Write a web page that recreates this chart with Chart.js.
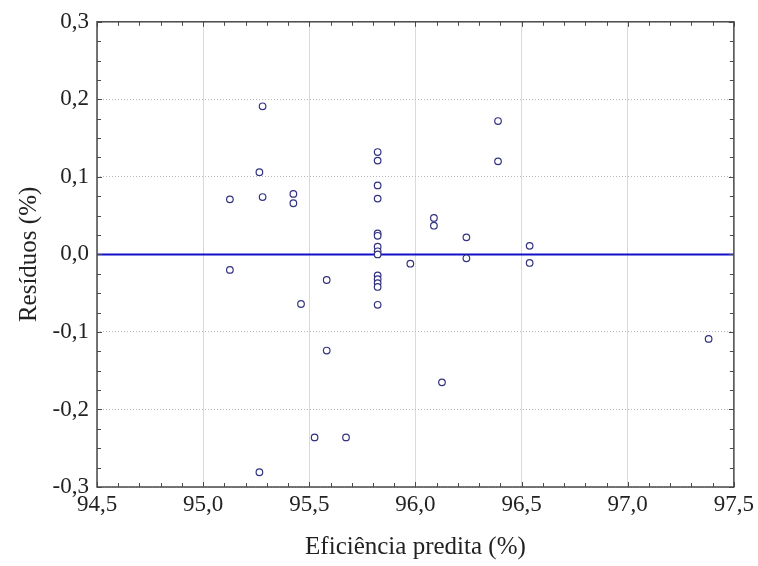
<!DOCTYPE html>
<html>
<head>
<meta charset="utf-8">
<script src="https://cdn.jsdelivr.net/npm/chart.js@4"></script>
<style>
  html, body { margin: 0; padding: 0; background: #fff; }
  #wrap { width: 758px; height: 566px; }
</style>
</head>
<body>
<div id="wrap"><canvas id="residuals"></canvas></div>
<script>
// Predicted efficiency (%) and residuals (%)
const predicted = [
  95.126, 95.126, 95.265, 95.280, 95.280, 95.425, 95.425, 95.461,
  95.582, 95.582, 95.525, 95.673, 95.265,
  95.822, 95.822, 95.822, 95.822, 95.822, 95.822, 95.822, 95.822,
  95.822, 95.822, 95.822, 95.822, 95.822, 95.822,
  95.976, 96.087, 96.087, 96.240, 96.240, 96.389, 96.389,
  96.538, 96.538, 96.125, 97.381
];
const residuals = [
  0.071, -0.020, 0.106, 0.191, 0.074, 0.078, 0.066, -0.064,
  -0.033, -0.124, -0.236, -0.236, -0.281,
  0.132, 0.121, 0.089, 0.072, 0.027, 0.024, 0.010, 0.004,
  0.000, -0.027, -0.032, -0.037, -0.042, -0.065,
  -0.012, 0.047, 0.037, 0.022, -0.005, 0.172, 0.120,
  0.011, -0.011, -0.165, -0.109
];
const xRange = [94.5, 97.5];
const yRange = [-0.3, 0.3];
const zeroLine = [0, 0];

const fmt = (v) => v.toFixed(1).replace('.', ',');

// Frame with inward ticks on all four sides (Statistica style)
const framePlugin = {
  id: 'frame',
  afterDatasetsDraw(chart) {
    const { ctx, chartArea: a, scales } = chart;
    ctx.save();
    ctx.strokeStyle = '#4a4a4a';
    ctx.lineWidth = 1;
    // minor + major ticks on x every 0.1
    for (let i = 0; i <= 30; i++) {
      const v = xRange[0] + i * 0.1;
      const px = Math.round(scales.x.getPixelForValue(v)) + 0.5;
      const len = i % 5 === 0 ? 5 : 4;
      ctx.beginPath();
      ctx.moveTo(px, a.bottom); ctx.lineTo(px, a.bottom - len);
      ctx.moveTo(px, a.top); ctx.lineTo(px, a.top + len);
      ctx.stroke();
    }
    // y ticks every 0.025
    for (let i = 0; i <= 24; i++) {
      const v = yRange[0] + i * 0.025;
      const py = Math.round(scales.y.getPixelForValue(v)) + 0.5;
      const len = i % 4 === 0 ? 5 : 4;
      ctx.beginPath();
      ctx.moveTo(a.left, py); ctx.lineTo(a.left + len, py);
      ctx.moveTo(a.right, py); ctx.lineTo(a.right - len, py);
      ctx.stroke();
    }
    ctx.lineWidth = 1.5;
    ctx.strokeRect(a.left, a.top, a.right - a.left, a.bottom - a.top);
    ctx.restore();
  }
};

const ctx = document.getElementById('residuals');
new Chart(ctx, {
  type: 'scatter',
  data: {
    datasets: [
      {
        type: 'line',
        data: xRange.map((x, i) => ({ x, y: zeroLine[i] })),
        borderColor: '#1010c8',
        borderWidth: 2,
        pointRadius: 0,
        order: 2,
      },
      {
        data: predicted.map((x, i) => ({ x, y: residuals[i] })),
        pointStyle: 'circle',
        pointRadius: 3.3,
        borderWidth: 1.2,
        borderColor: '#33337f',
        backgroundColor: '#ffffff',
        order: 1,
      },
    ],
  },
  options: {
    responsive: true,
    maintainAspectRatio: false,
    animation: false,
    layout: {
      padding: { left: 14, right: 24, top: 19, bottom: 4 },
    },
    scales: {
      x: {
        type: 'linear',
        min: xRange[0],
        max: xRange[1],
        afterFit: (scale) => { scale.height = 75; },
        ticks: {
          stepSize: 0.5,
          padding: 4,
          color: '#222',
          font: { family: 'Liberation Serif', size: 23 },
          callback: (v) => fmt(v),
        },
        grid: {
          color: '#dadada',
          lineWidth: 1,
          drawTicks: false,
        },
        border: { display: false },
        title: {
          display: true,
          text: 'Eficiência predita (%)',
          color: '#222',
          font: { family: 'Liberation Serif', size: 25 },
          padding: 0,
        },
      },
      y: {
        min: yRange[0],
        max: yRange[1],
        afterFit: (scale) => { scale.width = 83; },
        ticks: {
          stepSize: 0.1,
          padding: 8,
          color: '#222',
          font: { family: 'Liberation Serif', size: 23 },
          callback: (v) => fmt(v),
        },
        grid: {
          color: '#b8b8b8',
          lineWidth: 1,
          drawTicks: false,
        },
        border: { display: false, dash: [1, 2] },
        title: {
          display: true,
          text: 'Resíduos (%)',
          color: '#222',
          font: { family: 'Liberation Serif', size: 25 },
          padding: 0,
        },
      },
    },
    plugins: {
      legend: { display: false },
      tooltip: { enabled: false },
    },
  },
  plugins: [framePlugin],
});
</script>
</body>
</html>
